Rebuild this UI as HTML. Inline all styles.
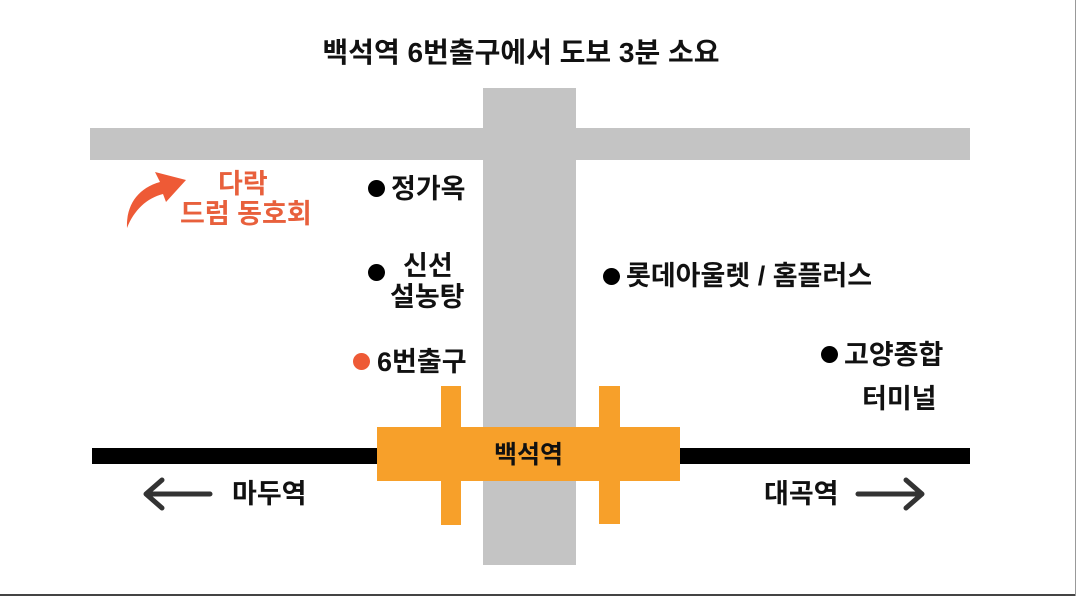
<!DOCTYPE html>
<html><head><meta charset="utf-8"><style>
body{margin:0;width:1080px;height:596px;background:#fff;position:relative;overflow:hidden;font-family:"Liberation Sans","Noto Sans CJK KR",sans-serif;font-weight:bold;color:#111}
div{position:absolute}
.t{white-space:nowrap;font-size:27px;line-height:1}
.dot{width:17px;height:17px;border-radius:50%;background:#000}
</style></head><body>
<div style="left:0;top:594px;width:1080px;height:2px;background:#444"></div>
<div style="left:1075px;top:0;width:5px;height:596px;background:#fff;border-left:1px solid #999"></div>
<div class="t" style="left:0;width:1042px;text-align:center;top:39px;font-size:28px">백석역 6번출구에서 도보 3분 소요</div>
<div style="left:90px;top:128px;width:880px;height:32px;background:#c4c4c4"></div>
<div style="left:483px;top:88px;width:93px;height:477px;background:#c4c4c4"></div>
<div style="left:92px;top:448px;width:878px;height:16px;background:#000"></div>
<div style="left:441px;top:386px;width:20px;height:139px;background:#f7a02a"></div>
<div style="left:599px;top:386px;width:21px;height:138px;background:#f7a02a"></div>
<div style="left:377px;top:427px;width:303px;height:54px;background:#f7a02a"></div>
<div class="t" style="left:377px;width:303px;text-align:center;top:443px;font-size:25px">백석역</div>
<svg style="position:absolute;left:0;top:0" width="1080" height="596">
<path d="M210 494H150M162 480L146 494L162 508" fill="none" stroke="#333" stroke-width="5" stroke-linecap="round" stroke-linejoin="round"/>
<path d="M858 494H920M906 480L922 494L906 508" fill="none" stroke="#333" stroke-width="5" stroke-linecap="round" stroke-linejoin="round"/>
<path d="M127 228C126 205 138 188 160 182L155 172L186 180L166 202L163 194C147 198 134 210 127 228Z" fill="#ee5a36"/>
</svg>
<div class="t" style="left:232px;top:481px">마두역</div>
<div class="t" style="left:764px;top:481px">대곡역</div>
<div class="t" style="left:218px;top:171px;color:#e8603c">다락</div>
<div class="t" style="left:180px;top:201px;color:#e8603c">드럼 동호회</div>
<div class="dot" style="left:368px;top:180px"></div>
<div class="t" style="left:391px;top:176px">정가옥</div>
<div class="dot" style="left:368px;top:264px"></div>
<div class="t" style="left:403px;top:253px">신선</div>
<div class="t" style="left:390px;top:284px">설농탕</div>
<div class="dot" style="left:353px;top:353px;background:#ee5a36"></div>
<div class="t" style="left:377px;top:349px">6번출구</div>
<div class="dot" style="left:603px;top:268px"></div>
<div class="t" style="left:626px;top:263px">롯데아울렛 / 홈플러스</div>
<div class="dot" style="left:821px;top:346px"></div>
<div class="t" style="left:844px;top:342px">고양종합</div>
<div class="t" style="left:862px;top:386px">터미널</div>
</body></html>
